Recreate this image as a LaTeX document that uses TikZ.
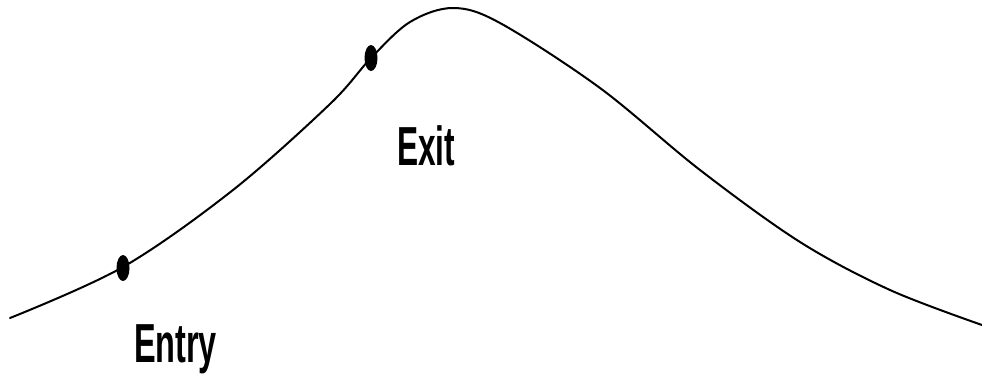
\documentclass[tikz,border=0pt]{standalone}
\usepackage{fontspec}
\setmainfont{Liberation Sans}
\usetikzlibrary{shapes.geometric}
\begin{document}
\begin{tikzpicture}[x=1pt,y=-1pt,
  curve/.style={line width=2pt,black,line cap=round},
  dotmark/.style={ellipse,fill=black,minimum width=13pt,minimum height=26pt,inner sep=0pt},
  lbl/.style={inner sep=0pt,anchor=base,font=\bfseries\fontsize{55}{60}\selectfont}]
\useasboundingbox (0,0) rectangle (982,373);
\draw[curve] plot[smooth,tension=0.55] coordinates {
 (10,318) (123,267) (233,190) (330,104) (371,58) (410,22) (453,8) (500,23)
 (600,88) (700,170) (800,242) (890,290) (982,325)};
\node[dotmark] (entry) at (123,268) {};
\node[dotmark] (exit) at (371,58) {};
\node[lbl] (entrylbl) at (175.5,362) {\scalebox{0.59}[1]{Entry}};
\node[lbl] (exitlbl) at (426,165) {\scalebox{0.575}[1]{Exit}};
\end{tikzpicture}
\end{document}
